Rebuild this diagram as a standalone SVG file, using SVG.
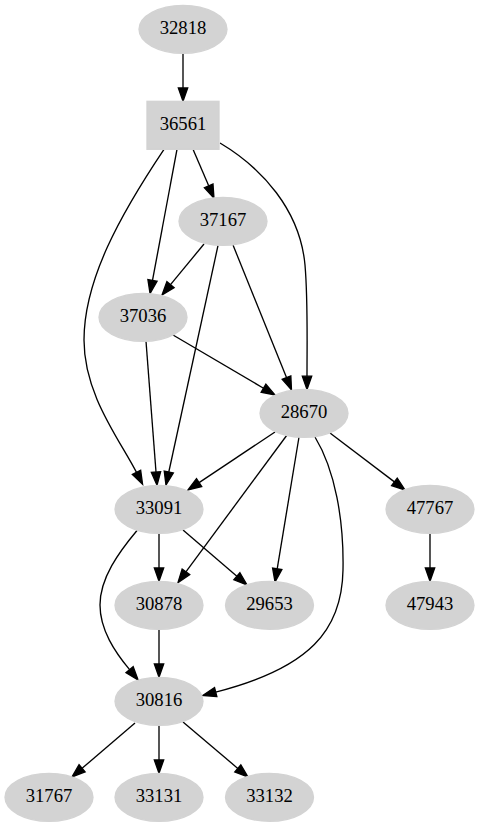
<svg xmlns="http://www.w3.org/2000/svg" width="479" height="827" viewBox="0 0 479 827">
<style>
.n ellipse, .n rect { fill: #d3d3d3; stroke: #d3d3d3; stroke-width: 1.33; }
.n text { font-family: "Liberation Serif", "Times New Roman", serif; font-size: 18.67px; text-anchor: middle; fill: #000; }
.e path { fill: none; stroke: #000; stroke-width: 1.33; marker-end: url(#ah); }
</style>
<defs>
<marker id="ah" markerUnits="userSpaceOnUse" markerWidth="16" markerHeight="12" refX="0" refY="5" orient="auto" viewBox="0 0 16 12" overflow="visible">
<polygon points="0,0.33 13.33,5 0,9.67" fill="#000" stroke="#000" stroke-width="1.33"/>
</marker>
</defs>
<rect width="479" height="827" fill="#fff"/>
<g id="edges" class="e">
<path d="M183,53.3 L183,88"/>
<path d="M193,149.3 L208.7,185.8"/>
<path d="M177,149.3 L152.5,280.4"/>
<path d="M164,149.3 C120,215 84,280 84,340 C84,395 120,440 136.5,472.4"/>
<path d="M220,143 C262,168 300,210 305,265 C308,300 307,340 307,376.2"/>
<path d="M204,244 L170.5,284.7"/>
<path d="M218,245.5 L168.8,472"/>
<path d="M233,245 L286.5,377.6"/>
<path d="M146,341.3 L156,472"/>
<path d="M173,335 L263.5,388.2"/>
<path d="M275,432 L199.1,482.6"/>
<path d="M287,435 L185.9,571.8"/>
<path d="M299,437 L277.2,568.8"/>
<path d="M315,437 C335,470 344,520 343,570 C342,630 310,668 215.7,692.1"/>
<path d="M330,433 L394.4,481.9"/>
<path d="M159,533.3 L159,568"/>
<path d="M183,530 L236.9,576.3"/>
<path d="M137,530.5 C119,552 100,578 100,605 C100,630 115,652 129.6,669.7"/>
<path d="M159,629.3 L159,664"/>
<path d="M430,533.3 L430,568"/>
<path d="M135,723 L82.1,768.3"/>
<path d="M159,725.3 L159,760"/>
<path d="M183,722 L237.8,768.4"/>
</g>
<g id="n32818" class="n"><ellipse cx="183" cy="29.33" rx="44" ry="24"/><text x="183" y="34.4">32818</text></g>
<g id="n36561" class="n"><rect x="147" y="101.33" width="72" height="48"/><text x="183" y="130.4">36561</text></g>
<g id="n37167" class="n"><ellipse cx="223" cy="221.33" rx="44" ry="24"/><text x="223" y="226.4">37167</text></g>
<g id="n37036" class="n"><ellipse cx="143" cy="317.33" rx="44" ry="24"/><text x="143" y="322.4">37036</text></g>
<g id="n28670" class="n"><ellipse cx="304" cy="413.33" rx="44" ry="24"/><text x="304" y="418.4">28670</text></g>
<g id="n33091" class="n"><ellipse cx="159" cy="509.33" rx="44" ry="24"/><text x="159" y="514.4">33091</text></g>
<g id="n47767" class="n"><ellipse cx="430" cy="509.33" rx="44" ry="24"/><text x="430" y="514.4">47767</text></g>
<g id="n30878" class="n"><ellipse cx="159" cy="605.33" rx="44" ry="24"/><text x="159" y="610.4">30878</text></g>
<g id="n29653" class="n"><ellipse cx="269.5" cy="605.33" rx="44" ry="24"/><text x="269.5" y="610.4">29653</text></g>
<g id="n47943" class="n"><ellipse cx="430" cy="605.33" rx="44" ry="24"/><text x="430" y="610.4">47943</text></g>
<g id="n30816" class="n"><ellipse cx="159" cy="701.33" rx="44" ry="24"/><text x="159" y="706.4">30816</text></g>
<g id="n31767" class="n"><ellipse cx="49" cy="797.33" rx="44" ry="24"/><text x="49" y="802.4">31767</text></g>
<g id="n33131" class="n"><ellipse cx="159" cy="797.33" rx="44" ry="24"/><text x="159" y="802.4">33131</text></g>
<g id="n33132" class="n"><ellipse cx="269.5" cy="797.33" rx="44" ry="24"/><text x="269.5" y="802.4">33132</text></g>
</svg>
